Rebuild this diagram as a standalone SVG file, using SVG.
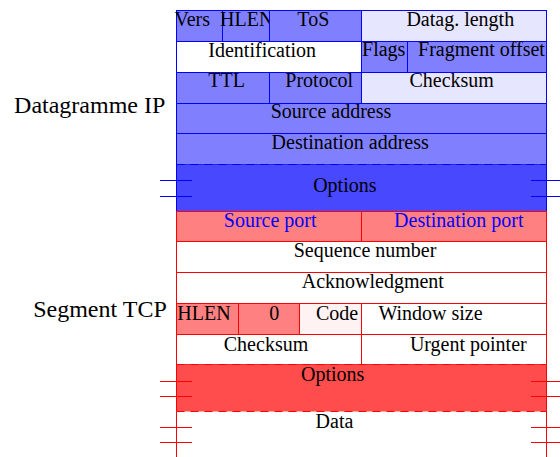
<svg xmlns="http://www.w3.org/2000/svg" width="560" height="457" viewBox="0 0 560 457">
<style>
text{font-family:"Liberation Serif","Times New Roman",serif;font-size:20px;fill:#000;text-anchor:middle}
.lbl{font-size:24px}
.bt{fill:#0000FF}
.ip{fill:#8080FF;stroke:#0000FF;stroke-width:1}
.ipl{fill:#E6E6FF;stroke:#0000FF;stroke-width:1}
.ipw{fill:#FFFFFF;stroke:#0000FF;stroke-width:1}
.tc{fill:#FF8080;stroke:#FF0000;stroke-width:1}
.tcl{fill:#FFF2F2;stroke:#FF0000;stroke-width:1}
.tcw{fill:#FFFFFF;stroke:#FF0000;stroke-width:1}
.bl{stroke:#0000FF;stroke-width:1;fill:none}
.rl{stroke:#FF0000;stroke-width:1;fill:none}
.dash{stroke-dasharray:8 6}
</style>
<rect width="560" height="457" fill="#FFFFFF"/>
<g id="labels">
<text class="lbl" x="89.7" y="113">Datagramme IP</text>
<text class="lbl" x="100" y="316.5">Segment TCP</text>
</g>
<g id="ip">
<g id="ip-vers"><rect class="ip" x="176.5" y="10.5" width="46" height="31"/><text x="192.2" y="25.5">Vers</text></g>
<g id="ip-hlen"><rect class="ip" x="222.5" y="10.5" width="47" height="31"/><text x="246.7" y="25.5">HLEN</text></g>
<g id="ip-tos"><rect class="ip" x="269.5" y="10.5" width="92" height="31"/><text x="313.3" y="25.5">ToS</text></g>
<g id="ip-length"><rect class="ipl" x="361.5" y="10.5" width="185" height="31"/><text x="460.3" y="25.5">Datag. length</text></g>
<g id="ip-ident"><rect class="ipw" x="176.5" y="41.5" width="185" height="31"/><text x="262.2" y="56.5">Identification</text></g>
<g id="ip-flags"><rect class="ip" x="361.5" y="41.5" width="46" height="31"/><text x="383.7" y="55.5">Flags</text></g>
<g id="ip-frag"><rect class="ip" x="407.5" y="41.5" width="139" height="31"/><text x="481.5" y="55.5">Fragment offset</text></g>
<g id="ip-ttl"><rect class="ip" x="176.5" y="72.5" width="93" height="31"/><text x="226.7" y="87.3">TTL</text></g>
<g id="ip-proto"><rect class="ip" x="269.5" y="72.5" width="92" height="31"/><text x="319.2" y="87.3">Protocol</text></g>
<g id="ip-checksum"><rect class="ipl" x="361.5" y="72.5" width="185" height="31"/><text x="451.7" y="87.3">Checksum</text></g>
<g id="ip-src"><rect class="ip" x="176.5" y="103.5" width="370" height="30"/><text x="331" y="118.3">Source address</text></g>
<g id="ip-dst"><rect class="ip" x="176.5" y="133.5" width="370" height="31"/><text x="350.2" y="149.3">Destination address</text></g>
<g id="ip-options">
<rect x="176.5" y="164.5" width="370" height="47" fill="#4848FF"/>
<path class="bl dash" d="M176.5 164.5H546.5M176.5 211.5H546.5"/>
<path class="bl" d="M176.5 164.5V211.5M546.5 164.5V211.5"/>
<text x="344.8" y="191.7">Options</text>
</g>
</g>
<g id="tcp">
<g id="tcp-srcport"><rect class="tc" x="176.5" y="211.5" width="185" height="30"/><text class="bt" x="270.2" y="226.5">Source port</text></g>
<g id="tcp-dstport"><rect class="tc" x="361.5" y="211.5" width="185" height="30"/><text class="bt" x="458.8" y="226.5">Destination port</text></g>
<g id="tcp-seq"><rect class="tcw" x="176.5" y="241.5" width="370" height="31"/><text x="365" y="256.5">Sequence number</text></g>
<g id="tcp-ack"><rect class="tcw" x="176.5" y="272.5" width="370" height="31"/><text x="372.8" y="288">Acknowledgment</text></g>
<g id="tcp-hlen"><rect class="tc" x="176.5" y="303.5" width="62" height="31"/><text x="204" y="319.5">HLEN</text></g>
<g id="tcp-zero"><rect class="tc" x="238.5" y="303.5" width="61" height="31"/><text x="274.3" y="319.5">0</text></g>
<g id="tcp-code"><rect class="tcl" x="299.5" y="303.5" width="62" height="31"/><text x="337" y="319.5">Code</text></g>
<g id="tcp-window"><rect class="tcw" x="361.5" y="303.5" width="185" height="31"/><text x="430.5" y="319.5">Window size</text></g>
<g id="tcp-checksum"><rect class="tcw" x="176.5" y="334.5" width="185" height="30"/><text x="266" y="350.5">Checksum</text></g>
<g id="tcp-urgent"><rect class="tcw" x="361.5" y="334.5" width="185" height="30"/><text x="468.3" y="350.5">Urgent pointer</text></g>
<g id="tcp-options">
<rect x="176.5" y="364.5" width="370" height="47" fill="#FF4C4C"/>
<path class="rl dash" d="M176.5 364.5H546.5M176.5 411.5H546.5"/>
<path class="rl" d="M176.5 364.5V411.5M546.5 364.5V411.5"/>
<text x="332.7" y="380.5">Options</text>
</g>
<g id="tcp-data">
<path class="rl" d="M176.5 411.5V457M546.5 411.5V457"/>
<text x="334.5" y="428">Data</text>
</g>
</g>
<g id="connectors">
<path class="bl" d="M160 180.5H192M160 196.5H192M531 180.5H560M531 196.5H560"/>
<path class="rl" d="M160 381.5H192M160 396.5H192M531 381.5H560M531 396.5H560"/>
<path class="rl" d="M160 427.5H192M160 442.5H192M531 427.5H560M531 442.5H560"/>
</g>
</svg>
